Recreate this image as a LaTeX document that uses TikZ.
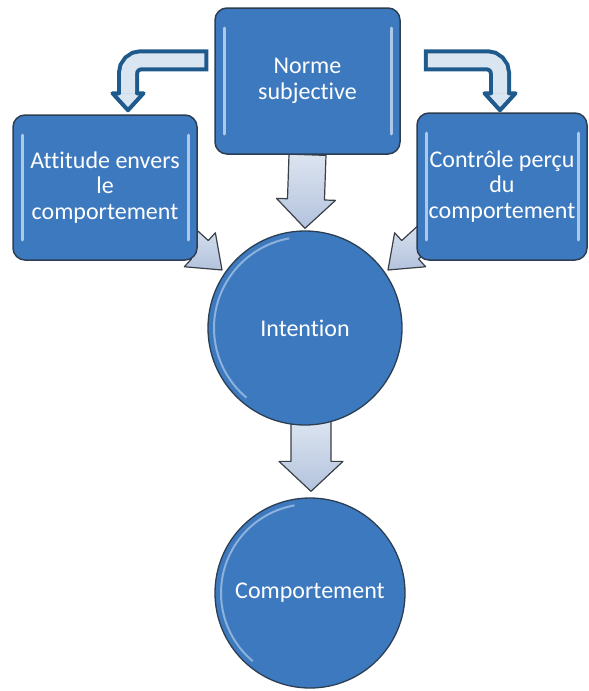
\documentclass[tikz,border=0pt]{standalone}
\usepackage{fontspec}
\setmainfont{Carlito}[Ligatures=NoCommon]
\usetikzlibrary{calc, backgrounds}

\definecolor{boxblue}{HTML}{3D79BF}
\definecolor{boxedge}{HTML}{2C3E52}
\definecolor{glintblue}{HTML}{C2D8F0}
\definecolor{bentdark}{HTML}{1F5A8C}
\definecolor{bentlight}{HTML}{DAE5F2}
\definecolor{arrowtop}{HTML}{DCE4F0}
\definecolor{arrowbottom}{HTML}{B3C3DD}
\definecolor{arrowedge}{HTML}{3A3F47}

\tikzset{
  box/.style={draw=boxedge, line width=1.5pt, fill=boxblue, rounded corners=12pt,
    text=white, align=center, inner sep=0pt, font=\fontsize{24}{25.5}\selectfont,
    path picture={
      \draw[glintblue, line width=3pt, line cap=round, opacity=.85]
        ($(path picture bounding box.north west)+(9,-20)$) -- ($(path picture bounding box.south west)+(9,20)$);
      \draw[glintblue, line width=3pt, line cap=round, opacity=.85]
        ($(path picture bounding box.north east)+(-9,-20)$) -- ($(path picture bounding box.south east)+(-9,20)$);
    }},
  disc/.style={circle, draw=boxedge, line width=1.3pt, fill=boxblue, minimum size={2*#1pt},
    text=white, inner sep=0pt, font=\fontsize{24}{25.5}\selectfont,
    path picture={
      \draw[glintblue, line width=2pt, opacity=.6]
        ($(path picture bounding box.center)+(230:{#1pt-6pt})$) arc[start angle=230, end angle=100, radius={#1pt-6pt}];
    }},
  blockarrow/.style={draw=arrowedge, line width=1.2pt, line join=round, top color=arrowtop, bottom color=arrowbottom},
  bentshaft/.style={line width=22pt, draw=bentdark, rounded corners=13pt},
  bentfill/.style={line width=14pt, draw=bentlight, rounded corners=13pt},
  benthead/.style={draw=bentdark, line width=4pt, line join=round, line cap=round},
}

% start, tip, shaft half width, head half width, head length
\newcommand{\blockarrow}[5]{%
  \coordinate (ba-base) at ($(#2)!#5!(#1)$);
  \draw[blockarrow] ($(#1)!#3!90:(#2)$) -- ($(ba-base)!#3!90:(#2)$) -- ($(ba-base)!#4!90:(#2)$)
    -- (#2) -- ($(ba-base)!#4!-90:(#2)$) -- ($(ba-base)!#3!-90:(#2)$) -- ($(#1)!#3!-90:(#2)$) -- cycle;
}

\begin{document}
\begin{tikzpicture}[x=1pt, y=1pt]
  \useasboundingbox (0,0) rectangle (589,-691);

  \node[disc=97] (intention) at (305,-328) {Intention};
  \node[disc=95] (comportement) at (310,-593) {Comportement};

  \node[box, minimum width=185pt, minimum height=146pt] (norme) at (307.5,-81) {Norme\\subjective};
  \node[box, minimum width=184pt, minimum height=145pt] (attitude) at (105,-187.5) {Attitude envers\\le\\comportement};
  \node[box, minimum width=170pt, minimum height=147pt] (controle) at (502,-186.5) {Contrôle perçu\\du\\comportement};

  % block arrows, behind the shapes
  \coordinate (in-top) at ($(intention.north)+(0,2)$);
  \coordinate (in-bottom) at ($(intention.south)+(6,5)$);
  \coordinate (co-top) at ($(comportement.north)+(1,6)$);
  \coordinate (at-start) at ($(attitude.south east)+(-22,33)$);
  \coordinate (at-tip) at ($(intention.145)+(-3,2)$);
  \coordinate (cp-start) at ($(controle.south west)+(18,33)$);
  \coordinate (cp-tip) at ($(intention.35)+(3,2)$);
  \begin{scope}[on background layer]
    \blockarrow{norme.south}{in-top}{18.5pt}{29.5pt}{29pt}
    \blockarrow{in-bottom}{co-top}{20pt}{32pt}{30pt}
    \blockarrow{at-start}{at-tip}{12.5pt}{23pt}{30pt}
    \blockarrow{cp-start}{cp-tip}{12.5pt}{23pt}{30pt}
  \end{scope}

  % bent arrows
  \coordinate (ns-start) at ($(norme.north west)+(-6,-53)$);
  \coordinate (ns-tip) at ($(attitude.north)+(23,4)$);
  \coordinate (ns-base) at ($(ns-tip)+(0,17)$);
  \draw[bentshaft] (ns-start) -| (ns-base);
  \draw[bentfill] ($(ns-start)+(-4,0)$) -| (ns-base);
  \fill[bentlight] ($(ns-base)+(-15.5,0)$) -- (ns-tip) -- ($(ns-base)+(15.5,0)$) -- cycle;
  \draw[benthead] ($(ns-base)+(-9,0)$) -- ($(ns-base)+(-15.5,0)$) -- (ns-tip) -- ($(ns-base)+(15.5,0)$) -- ($(ns-base)+(9,0)$);

  \coordinate (nc-start) at ($(norme.north east)+(23,-53)$);
  \coordinate (nc-tip) at ($(controle.north)+(-2,2)$);
  \coordinate (nc-base) at ($(nc-tip)+(0,17)$);
  \draw[bentshaft] (nc-start) -| (nc-base);
  \draw[bentfill] ($(nc-start)+(4,0)$) -| (nc-base);
  \fill[bentlight] ($(nc-base)+(-15.5,0)$) -- (nc-tip) -- ($(nc-base)+(15.5,0)$) -- cycle;
  \draw[benthead] ($(nc-base)+(-9,0)$) -- ($(nc-base)+(-15.5,0)$) -- (nc-tip) -- ($(nc-base)+(15.5,0)$) -- ($(nc-base)+(9,0)$);
\end{tikzpicture}
\end{document}
